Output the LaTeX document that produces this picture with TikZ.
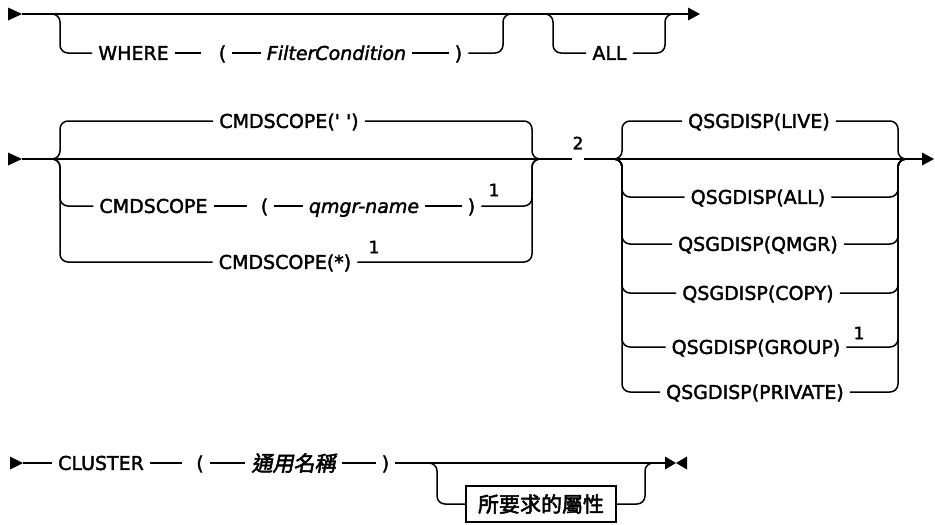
\documentclass[tikz,border=0pt]{standalone}
\usepackage{fontspec}
\newfontfamily\rr{DejaVu Sans}[FakeBold=2]
\newfontfamily\cjki{Noto Sans CJK TC}[FakeSlant=0.2,FakeBold=2.5]
\newfontfamily\cjkb{Noto Sans CJK TC}[FakeBold=2.5]
\begin{document}
\begin{tikzpicture}[x=1pt,y=-1pt,
  rail/.style={line width=1.5pt},
  railc/.style={rail,rounded corners=8pt},
  tok/.style={font=\rr\fontsize{19}{22}\selectfont, inner xsep=6pt, inner ysep=0pt, text height=13.8pt, text depth=0pt},
  var/.style={tok, font=\rr\itshape\fontsize{19}{22}\selectfont},
  cjkvar/.style={tok, font=\cjki\fontsize{21}{24}\selectfont, text height=17pt, text depth=1pt},
  notemark/.style={font=\rr\fontsize{17}{19}\selectfont, inner sep=0pt},
  attrbox/.style={draw, line width=1.5pt, minimum width=150pt, minimum height=36pt, inner sep=0pt, font=\cjkb\fontsize{21}{24}\selectfont}
]
\useasboundingbox (0,0) rectangle (935,525);

% ---------- Row 1 ----------
\coordinate (s1) at (22,14);
\coordinate (e1) at (688,14);
\coordinate (j1) at (48,14);
\coordinate (k1) at (515,14);
\coordinate (j2) at (541,14);
\coordinate (k2) at (675,14);
\fill (s1) -- ([xshift=-14pt,yshift=6.5pt]s1) -- ([xshift=-14pt,yshift=-6.5pt]s1) -- cycle;
\fill ([yshift=6.5pt]e1) -- ([xshift=12pt]e1) -- ([yshift=-6.5pt]e1) -- cycle;
\draw[rail] (s1) -- (e1);

\node[tok] (where) at (133.5,53) {WHERE};
\node[tok] (lp1) at (222.5,53) {(};
\node[var] (fc) at (336.5,53) {FilterCondition};
\node[tok] (rp1) at (458.5,53) {)};
\node[tok] (all) at (609.5,53) {ALL};

\draw[railc] (j1) -- ++(12,0) |- (where.west);
\draw[rail] (where.east) -- ([xshift=-12pt]lp1.west);
\draw[rail] (lp1.east) -- (fc.west);
\draw[rail] (fc.east) -- (rp1.west);
\draw[railc] (rp1.east) -| ([xshift=-12pt]k1) -- (k1);
\draw[railc] (j2) -- ++(12,0) |- (all.west);
\draw[railc] (all.east) -| ([xshift=-10pt]k2) -- (k2);

% ---------- Row 2 ----------
\coordinate (s2) at (22,159);
\coordinate (e2) at (922,159);
\coordinate (g1) at (572,159);
\coordinate (g2) at (584,159);
\coordinate (c1) at (48,159);
\coordinate (d1) at (544,159);
\coordinate (q1) at (610,159);
\coordinate (q2) at (910,159);
\fill (s2) -- ([xshift=-14pt,yshift=6.5pt]s2) -- ([xshift=-14pt,yshift=-6.5pt]s2) -- cycle;
\fill ([yshift=6.5pt]e2) -- ([xshift=12pt]e2) -- ([yshift=-6.5pt]e2) -- cycle;
\draw[rail] (s2) -- (g1);
\draw[rail] (g2) -- (e2);
\node[notemark] (n2) at (578,143) {2};

\node[tok] (cs1) at (289,121) {CMDSCOPE(\symbol{39} \symbol{39})};
\node[tok] (cs2) at (153.5,206) {CMDSCOPE};
\node[tok] (lp2) at (264.5,206) {(};
\node[var] (qm) at (364,206) {qmgr-name};
\node[tok] (rp2) at (471.5,206) {)};
\node[notemark] (n1a) at (494,190) {1};
\node[tok] (cs3) at (285,262) {CMDSCOPE(*)};
\node[notemark] (n1b) at (374,247) {1};

\draw[railc] (c1) -- ++(12,0) |- (cs1.west);
\draw[railc] (c1) -- ++(12,0) |- (cs2.west);
\draw[railc] (c1) -- ++(12,0) |- (cs3.west);
\draw[rail] (cs2.east) -- ([xshift=-8pt]lp2.west);
\draw[rail] (lp2.east) -- (qm.west);
\draw[rail] (qm.east) -- (rp2.west);
\draw[railc] (cs1.east) -| ([xshift=-12pt]d1) -- (d1);
\draw[railc] (rp2.east) -| ([xshift=-12pt]d1) -- (d1);
\draw[railc] (cs3.east) -| ([xshift=-12pt]d1) -- (d1);

\node[tok] (qs1) at (759,121) {QSGDISP(LIVE)};
\node[tok] (qs2) at (758,197) {QSGDISP(ALL)};
\node[tok] (qs3) at (758,244) {QSGDISP(QMGR)};
\node[tok] (qs4) at (758,293) {QSGDISP(COPY)};
\node[tok] (qs5) at (756,347) {QSGDISP(GROUP)};
\node[tok] (qs6) at (755,392) {QSGDISP(PRIVATE)};
\node[notemark] (n1c) at (859,333) {1};
\foreach \q in {qs1,qs2,qs3,qs4,qs5,qs6}{
  \draw[railc] (q1) -- ++(12,0) |- (\q.west);
  \draw[railc] (\q.east) -| ([xshift=-12pt]q2) -- (q2);
}

% ---------- Row 3 ----------
\coordinate (s3) at (23,463);
\coordinate (e3) at (665,463);
\coordinate (j3) at (427,463);
\coordinate (k3) at (655,463);
\fill (s3) -- ([xshift=-13pt,yshift=6.5pt]s3) -- ([xshift=-13pt,yshift=-6.5pt]s3) -- cycle;
\fill ([yshift=6.5pt]e3) -- ([xshift=11pt]e3) -- ([yshift=-6.5pt]e3) -- cycle;
\fill ([xshift=11pt]e3) -- ([xshift=22pt,yshift=6.5pt]e3) -- ([xshift=22pt,yshift=-6.5pt]e3) -- cycle;

\node[tok] (cl) at (101,463) {CLUSTER};
\node[tok] (lp3) at (200,463) {(};
\node[cjkvar] (gn) at (293.5,463) {通用名稱};
\node[tok] (rp3) at (385.5,463) {)};
\node[attrbox] (attr) at (541,504) {所要求的屬性};

\draw[rail] (s3) -- (cl.west);
\draw[rail] (cl.east) -- ([xshift=-8pt]lp3.west);
\draw[rail] (lp3.east) -- (gn.west);
\draw[rail] (gn.east) -- (rp3.west);
\draw[rail] (rp3.east) -- (e3);
\draw[railc] (j3) -- ++(10,0) |- (attr.west);
\draw[railc] (attr.east) -| ([xshift=-10pt]k3) -- (k3);
\end{tikzpicture}
\end{document}
